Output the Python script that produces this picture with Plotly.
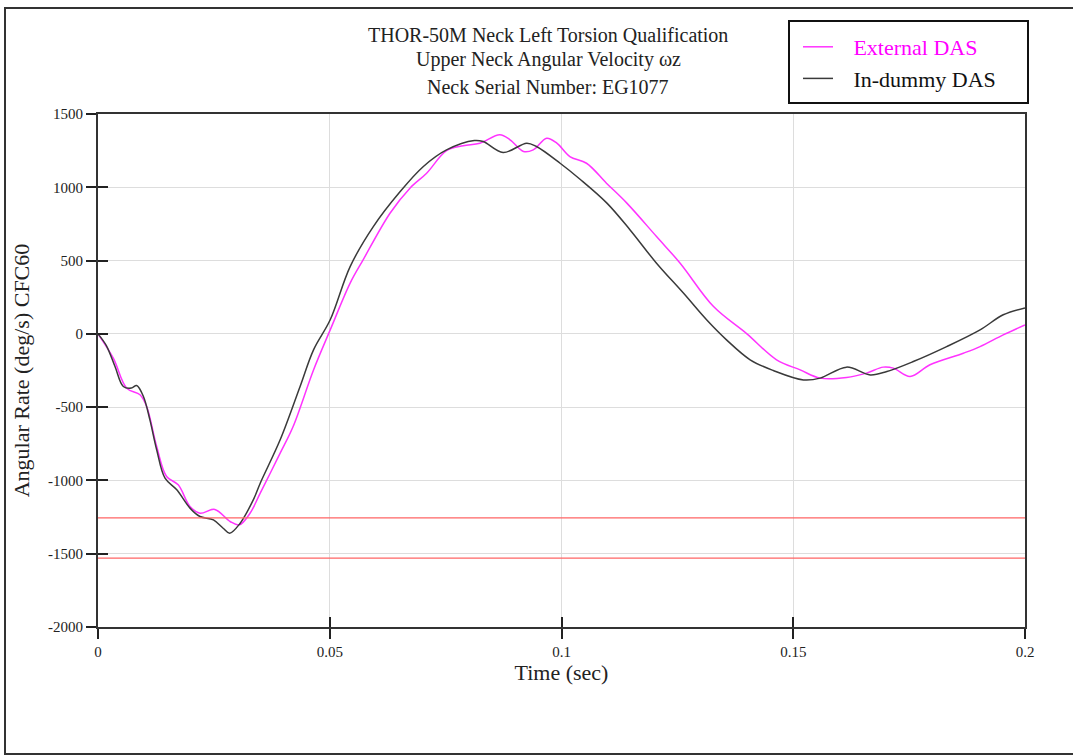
import plotly.graph_objects as go

# ---------------- data ----------------
t_ext = [0, 0.0033, 0.0062, 0.00906, 0.0105, 0.01266, 0.0148, 0.0173, 0.01985, 0.022,
         0.0252, 0.0285, 0.0305, 0.0328, 0.035, 0.0393, 0.0421, 0.0465, 0.0501, 0.0544,
         0.0572, 0.063, 0.0673, 0.0709, 0.0752, 0.0788, 0.0824, 0.0867, 0.0889, 0.0918,
         0.0939, 0.0968, 0.099, 0.1018, 0.1054, 0.1097, 0.1141, 0.1205, 0.1256, 0.1328,
         0.14, 0.1464, 0.1515, 0.1558, 0.1615, 0.1658, 0.1694, 0.1716, 0.1752, 0.1795,
         0.1867, 0.1903, 0.1953, 0.2]
v_ext = [0, -166, -371, -416, -496, -769, -973, -1030, -1178, -1224,
         -1198, -1280, -1303, -1224, -1087, -814, -632, -246, 27, 346,
         505, 823, 994, 1096, 1250, 1283, 1301, 1358, 1324, 1244,
         1255, 1335, 1301, 1210, 1164, 1028, 892, 664, 482, 186,
         0, -177, -246, -302, -298, -268, -227, -234, -291, -211,
         -132, -87, -7, 61]

t_dum = [0, 0.0018, 0.00367, 0.00546, 0.0072, 0.00834, 0.0098, 0.0112, 0.01266, 0.01446,
         0.017, 0.01985, 0.022, 0.0249, 0.027, 0.0284, 0.0306, 0.0335, 0.035, 0.0393,
         0.0436, 0.0465, 0.0501, 0.0544, 0.0594, 0.0652, 0.0702, 0.0752, 0.0812, 0.0831,
         0.0874, 0.0925, 0.0946, 0.0997, 0.104, 0.1098, 0.1148, 0.1205, 0.1263, 0.1313,
         0.1356, 0.1407, 0.1457, 0.1522, 0.1558, 0.1615, 0.1666, 0.1702, 0.1759, 0.1831,
         0.1903, 0.1953, 0.2]
v_dum = [0, -80, -223, -359, -370, -352, -427, -587, -791, -985,
         -1064, -1189, -1246, -1269, -1326, -1360, -1295, -1133, -1019, -723,
         -359, -109, 96, 459, 732, 971, 1142, 1255, 1319, 1312,
         1237, 1301, 1278, 1164, 1055, 892, 709, 482, 278, 96,
         -41, -177, -250, -314, -302, -227, -280, -257, -189, -87,
         27, 130, 177]

t_ref = [0, 0.2]
v_ref_upper = [-1255, -1255]
v_ref_lower = [-1530, -1530]

x_ticks = [0, 0.05, 0.1, 0.15, 0.2]
x_tick_labels = ["0", "0.05", "0.1", "0.15", "0.2"]
y_ticks = [1500, 1000, 500, 0, -500, -1000, -1500, -2000]
y_tick_labels = ["1500", "1000", "500", "0", "-500", "-1000", "-1500", "-2000"]

title_lines = ["THOR-50M Neck Left Torsion Qualification",
               "Upper Neck Angular Velocity \u03c9z",
               "Neck Serial Number: EG1077"]

FONT = "Liberation Serif, Times New Roman, serif"

# ---------------- figure ----------------
fig = go.Figure()

fig.add_trace(go.Scatter(x=t_ref, y=v_ref_upper, mode="lines", showlegend=False,
                         line=dict(color="#ff6464", width=1.2), xaxis="x2", yaxis="y2",
                         hoverinfo="skip"))
fig.add_trace(go.Scatter(x=t_ref, y=v_ref_lower, mode="lines", showlegend=False,
                         line=dict(color="#ff6464", width=1.2), xaxis="x2", yaxis="y2",
                         hoverinfo="skip"))

fig.add_trace(go.Scatter(x=t_ext, y=v_ext, mode="lines", line_shape="spline",
                         name="\u2002\u2009<span style='color:#ff00ff'>External DAS</span>",
                         line=dict(color="#ff33ff", width=1.5)))
fig.add_trace(go.Scatter(x=t_dum, y=v_dum, mode="lines", line_shape="spline",
                         name="\u2002\u2009In-dummy DAS",
                         line=dict(color="#3a3a3a", width=1.5)))

W, H = 1073, 756
L, R, T, B = 98, 1025, 114, 627          # plot area in window pixels


def px(x):
    return (x - L) / (R - L)


def py(y):
    return (B - y) / (B - T)


axis_common = dict(
    tickfont=dict(family=FONT, size=15, color="#222"),
    showline=True, linecolor="#333", linewidth=2,
)

fig.update_layout(
    width=W, height=H,
    margin=dict(l=L, r=W - R, t=T, b=H - B),
    paper_bgcolor="white", plot_bgcolor="white",
    font=dict(family=FONT, color="#222"),
    xaxis=dict(range=[0, 0.2], tickvals=x_ticks, ticktext=x_tick_labels,
               ticks="outside", ticklen=10, tickwidth=1.5, tickcolor="#222",
               showgrid=True, gridcolor="#dddddd", gridwidth=1, zeroline=False,
               mirror=True,
               title=dict(text="Time (sec)", font=dict(family=FONT, size=22, color="#222"),
                          standoff=5),
               **axis_common),
    yaxis=dict(range=[-2000, 1500], tickvals=y_ticks, ticktext=y_tick_labels,
               ticks="outside", ticklen=10, tickwidth=1.5, tickcolor="#222",
               showgrid=True, gridcolor="#dddddd", gridwidth=1, zeroline=False,
               mirror=True,
               title=dict(text="Angular Rate (deg/s) CFC60",
                          font=dict(family=FONT, size=22, color="#222"), standoff=12),
               **axis_common),
    xaxis2=dict(range=[0, 0.2], overlaying="x", anchor="y2", side="bottom",
                tickvals=x_ticks[1:], ticks="inside", ticklen=10, tickwidth=1.5,
                tickcolor="#222", showticklabels=False, showgrid=False,
                showline=False, zeroline=False),
    yaxis2=dict(range=[-2000, 1500], overlaying="y", anchor="x2", side="left",
                tickvals=y_ticks, ticks="inside", ticklen=10, tickwidth=1.5,
                tickcolor="#222", showticklabels=False, showgrid=False,
                showline=False, zeroline=False),
    legend=dict(x=px(798), y=py(26), xanchor="left", yanchor="top",
                bgcolor="rgba(0,0,0,0)", borderwidth=0,
                font=dict(family=FONT, size=22, color="#111"),
                itemwidth=30, tracegroupgap=0),
    showlegend=True,
)

# outer frame
fig.add_shape(type="rect", xref="paper", yref="paper",
              x0=px(5), x1=px(1090), y0=py(754), y1=py(8),
              line=dict(color="#333", width=2), layer="above")
# legend box
fig.add_shape(type="rect", xref="paper", yref="paper",
              x0=px(789), x1=px(1028), y0=py(103), y1=py(21),
              line=dict(color="#111", width=2), layer="above")

for line, ycen in zip(title_lines, [35, 60, 87]):
    fig.add_annotation(text=line, xref="paper", yref="paper", x=px(548), y=py(ycen),
                       xanchor="center", yanchor="middle", showarrow=False,
                       font=dict(family=FONT, size=20, color="#222"))

# remove the default 8px page margin so the figure sits at the window origin
fig.write_html("out.html", config={"displayModeBar": False},
               post_script="document.body.style.margin='0px';")
